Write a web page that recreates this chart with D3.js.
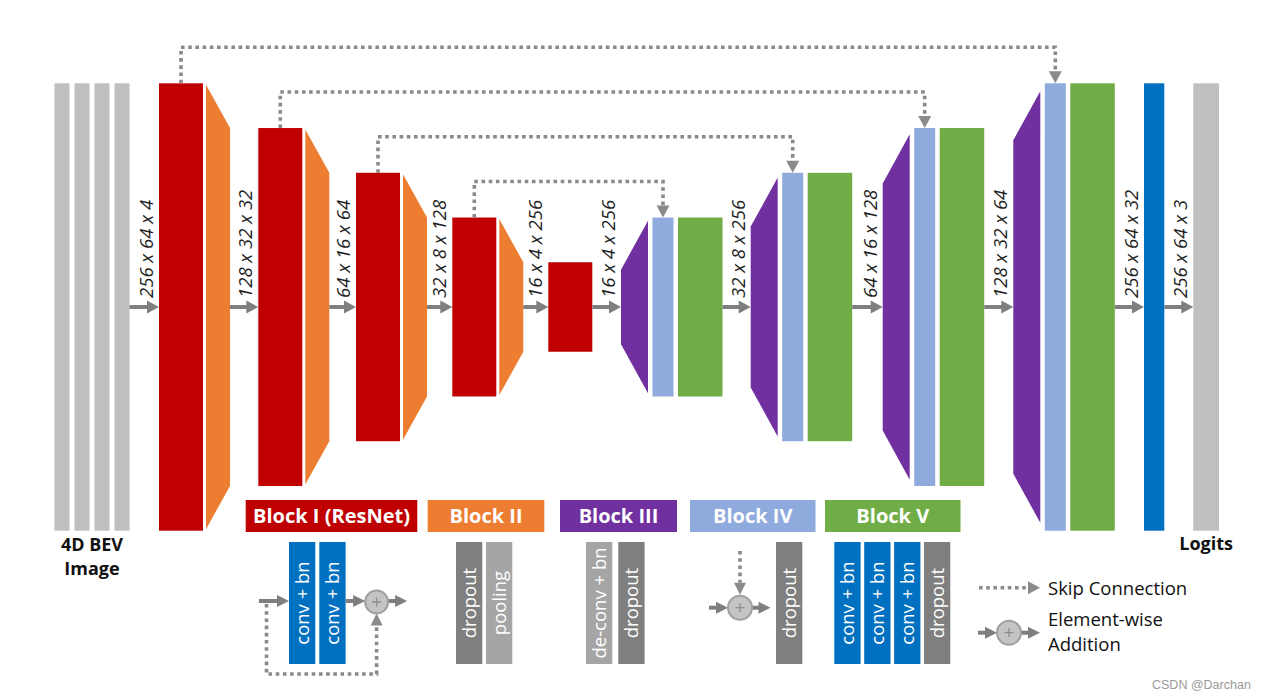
<!DOCTYPE html>
<html><head><meta charset="utf-8">
<script src="https://cdn.jsdelivr.net/npm/d3@7"></script>
<style>
body{margin:0;background:#fff;}
svg{display:block;font-family:"Open Sans","Noto Sans",sans-serif;}
</style>
</head><body>
<script>
// ---------------- data ----------------
const layerNames  = ["4D BEV Image","Encoder 1","Encoder 2","Encoder 3","Encoder 4","Bottleneck","Decoder 4","Decoder 3","Decoder 2","Decoder 1","Head","Logits"];
const layerKinds  = ["input","enc","enc","enc","enc","bottleneck","dec","dec","dec","dec","head","output"];
const layerSizes  = [256,256,128,64,32,16,32,64,128,256,256,256];   // first spatial dimension
const shapeLabels = ["256 x 64 x 4","128 x 32 x 32","64 x 16 x 64","32 x 8 x 128","16 x 4 x 256",
                     "16 x 4 x 256","32 x 8 x 256","64 x 16 x 128","128 x 32 x 64","256 x 64 x 32","256 x 64 x 3"];
const skipPairs   = [[1,9],[2,8],[3,7],[4,6]];
const blockNames  = ["Block I (ResNet)","Block II","Block III","Block IV","Block V"];
const blockOps    = [["conv + bn","conv + bn"],["dropout","pooling"],["de-conv + bn","dropout"],["dropout"],["conv + bn","conv + bn","conv + bn","dropout"]];
const inputLabel  = ["4D BEV","Image"];
const outputLabel = ["Logits"];
const legendLabels= ["Skip Connection","Element-wise","Addition"];
const watermark   = "CSDN @Darchan";

// ---------------- style / layout ----------------
const C = {gray:"#BFBFBF", red:"#C00000", orange:"#ED7D31", purple:"#7030A0", lb:"#8FAADC",
           green:"#70AD47", blue:"#0070C0", dark:"#7F7F7F", light:"#A5A5A5", arrow:"#7F7F7F", dot:"#8A8A8A"};
const blockColors = [C.red, C.orange, C.purple, C.lb, C.green];
const opColor = {"conv + bn":C.blue, "dropout":C.dark, "pooling":C.light, "de-conv + bn":C.light};
const L = {cy:307, x0:54.5, grayW:15, grayStep:20, redW:44, orangeW:24, purpleW:27, lbW:21, greenW:44.5,
           blueW:20.3, outW:25.7, gapRO:3, gapPL:4.5, gapLG:4.5, skipRise:36,
           arrows:[29.5,28.3,26.7,25.3,25,28.7,28.2,30.5,29.1,29.2,29]};
const B = {boxX:[[245.7,417.3],[427.7,544.3],[560,677],[690,815.5],[825,960.5]], boxY:500, boxH:32,
           opStart:[289,456,586,776,834.3], opStep:[30.3,30,32.3,30,29.9], opW:26.3, opY0:542, opY1:664};

const svg = d3.select("body").append("svg").attr("width",1261).attr("height",699);

const hScale = d3.scaleLog().base(2).domain([8,256]).range([0,447.4]);
const half = s => hScale(s)/2;
const cy = L.cy;

const gMain = svg.append("g");
const gSkip = svg.append("g");
const gTxt = svg.append("g");

function rect(g,x,y,w,h,fill){
  return g.append("rect").attr("x",x).attr("y",y).attr("width",w).attr("height",h).attr("fill",fill);
}
function trap(g,x0,x1,hl,hr,fill){
  g.append("path").attr("d",`M${x0},${cy-hl}L${x1},${cy-hr}L${x1},${cy+hr}L${x0},${cy+hl}Z`).attr("fill",fill);
}
function arrow(g,x0,y0,x1,y1,o={}){
  const hl=o.head||12, hw=o.hw||6, sw=o.sw||4, col=o.color||C.arrow;
  const dx=x1-x0, dy=y1-y0, len=Math.hypot(dx,dy), ux=dx/len, uy=dy/len;
  const bx=x1-ux*hl, by=y1-uy*hl;
  const ln=g.append("line").attr("x1",x0).attr("y1",y0).attr("x2",bx+ux*1).attr("y2",by+uy*1)
    .attr("stroke",col).attr("stroke-width",sw);
  if(o.dash) ln.attr("stroke-dasharray",o.dash);
  g.append("path").attr("d",`M${x1},${y1}L${bx-uy*hw},${by+ux*hw}L${bx+uy*hw},${by-ux*hw}Z`).attr("fill",col);
}
function dottedPath(g,pts,o={}){
  const hl=o.head||12, hw=o.hw||6.5;
  const n=pts.length, [xa,ya]=pts[n-2], [xb,yb]=pts[n-1];
  const len=Math.hypot(xb-xa,yb-ya), ux=(xb-xa)/len, uy=(yb-ya)/len;
  const bx=xb-ux*hl, by=yb-uy*hl;
  const p2=pts.slice(0,n-1).concat([[bx,by]]);
  g.append("path").attr("d",d3.line()(p2)).attr("fill","none").attr("stroke",C.dot)
    .attr("stroke-width",3.6).attr("stroke-dasharray","3.6,3.6");
  g.append("path").attr("d",`M${xb},${yb}L${bx-uy*hw},${by+ux*hw}L${bx+uy*hw},${by-ux*hw}Z`).attr("fill",C.dot);
}
function addCircle(g,cx,cyy,r){
  g.append("circle").attr("cx",cx).attr("cy",cyy).attr("r",r).attr("fill","#C4C4C4").attr("stroke","#A0A0A0").attr("stroke-width",2);
  g.append("path").attr("d",`M${cx-4.5},${cyy}H${cx+4.5}M${cx},${cyy-4.5}V${cyy+4.5}`).attr("stroke","#8C8C8C").attr("stroke-width",1.3);
}

// ---------------- main network ----------------
let x = L.x0;
const redCenter={}, lbCenter={}, topOf={};
layerKinds.forEach((kind,i)=>{
  if(i>0){
    const a=L.arrows[i-1];
    arrow(gMain,x,cy,x+a,cy,{head:12,hw:6.5,sw:4});
    gTxt.append("text").attr("transform",`translate(${x+a-6},${cy-9}) rotate(-90)`)
      .attr("font-size",18.5).attr("font-style","italic").attr("fill","#1e1e1e").text(shapeLabels[i-1]);
    x+=a;
  }
  const s=layerSizes[i], h=half(s);
  if(kind==="input"){
    for(let k=0;k<4;k++) rect(gMain,x+k*L.grayStep,cy-h,L.grayW,2*h,C.gray);
    gTxt.selectAll(null).data(inputLabel).join("text")
      .attr("x",x+(3*L.grayStep+L.grayW)/2).attr("y",(d,j)=>550.7+j*24.5)
      .attr("text-anchor","middle").attr("font-weight","bold").attr("font-size",18).attr("fill","#111").text(d=>d);
    x+=3*L.grayStep+L.grayW;
  } else if(kind==="enc"||kind==="bottleneck"){
    rect(gMain,x,cy-h,L.redW,2*h,C.red);
    redCenter[i]=x+L.redW/2; topOf[i]=cy-h;
    x+=L.redW;
    if(kind==="enc"){
      x+=L.gapRO;
      trap(gMain,x,x+L.orangeW,h-1.5,half(layerSizes[i+1]),C.orange);
      x+=L.orangeW;
    }
  } else if(kind==="dec"){
    const pr=0.965*h, pl=pr-L.purpleW*1.82;
    trap(gMain,x,x+L.purpleW,pl,pr,C.purple);
    x+=L.purpleW+L.gapPL;
    rect(gMain,x,cy-h,L.lbW,2*h,C.lb);
    lbCenter[i]=x+L.lbW/2; topOf[i]=cy-h;
    x+=L.lbW+L.gapLG;
    rect(gMain,x,cy-h,L.greenW,2*h,C.green);
    x+=L.greenW;
  } else if(kind==="head"){
    rect(gMain,x,cy-h,L.blueW,2*h,C.blue); x+=L.blueW;
  } else {
    rect(gMain,x,cy-h,L.outW,2*h,C.gray);
    gTxt.selectAll(null).data(outputLabel).join("text")
      .attr("x",x+L.outW/2).attr("y",549.5).attr("text-anchor","middle")
      .attr("font-weight","bold").attr("font-size",18).attr("fill","#111").text(d=>d);
    x+=L.outW;
  }
});

// skip connections
skipPairs.forEach(([e,d])=>{
  const yTop=topOf[e]-L.skipRise;
  dottedPath(gSkip,[[redCenter[e],topOf[e]],[redCenter[e],yTop],[lbCenter[d],yTop],[lbCenter[d],topOf[d]]],{head:12,hw:6.5});
});

// ---------------- block legend ----------------
const gB = svg.append("g");
blockNames.forEach((name,i)=>{
  const [x0,x1]=B.boxX[i];
  rect(gB,x0,B.boxY,x1-x0,B.boxH,blockColors[i]);
  gB.append("text").attr("x",(x0+x1)/2).attr("y",B.boxY+23.3).attr("text-anchor","middle")
    .attr("font-weight","bold").attr("font-size",20).attr("fill","#fff").text(name);
  blockOps[i].forEach((op,j)=>{
    const ox=B.opStart[i]+j*B.opStep[i];
    rect(gB,ox,B.opY0,B.opW,B.opY1-B.opY0,opColor[op]);
    gB.append("text").attr("transform",`translate(${ox+B.opW/2+6.5},${(B.opY0+B.opY1)/2}) rotate(-90)`)
      .attr("text-anchor","middle").attr("font-size",18.5).attr("fill","#fff").text(op);
  });
});

// Block I residual diagram
(function(){
  const y=601, r=11.5;
  const opEnd=B.opStart[0]+B.opStep[0]+B.opW;
  const ccx=opEnd+31;
  arrow(gB,259,y,B.opStart[0],y,{head:12,hw:6,sw:4});
  arrow(gB,opEnd,y,ccx-r,y,{head:12,hw:6,sw:4});
  arrow(gB,ccx+r,y,ccx+r+19,y,{head:12,hw:6,sw:4});
  dottedPath(gB,[[266.5,y+3],[266.5,674],[ccx,674],[ccx,y+r+1]],{head:12,hw:6});
  addCircle(gB,ccx,y+1,r);
})();

// Block IV addition diagram
(function(){
  const ccx=740, ccy=607.7, r=12;
  dottedPath(gB,[[ccx,551],[ccx,ccy-r-1]],{head:12,hw:6});
  arrow(gB,709,ccy,ccx-r,ccy,{head:12,hw:6,sw:4});
  arrow(gB,ccx+r,ccy,B.opStart[3]-5.5,ccy,{head:12,hw:6,sw:4});
  addCircle(gB,ccx,ccy,r);
})();

// ---------------- symbol legend ----------------
(function(){
  const g=svg.append("g");
  dottedPath(g,[[979,587.7],[1040,587.7]],{head:12,hw:6.5});
  const ccx=1009, ccy=632.7, r=12;
  arrow(g,978,ccy,ccx-r,ccy,{head:12,hw:6,sw:4});
  arrow(g,ccx+r,ccy,1040,ccy,{head:12,hw:6,sw:4});
  addCircle(g,ccx,ccy,r);
  const ys=[594.5,626,651];
  g.selectAll(null).data(legendLabels).join("text").attr("x",1048).attr("y",(d,i)=>ys[i])
    .attr("font-size",18.5).attr("fill","#111").text(d=>d);
  g.append("text").attr("x",1152).attr("y",688.5).attr("font-family","'Liberation Sans',Arial,sans-serif")
    .attr("font-size",12.5).attr("fill","#9a9a9a").text(watermark);
})();
</script>
</body></html>
